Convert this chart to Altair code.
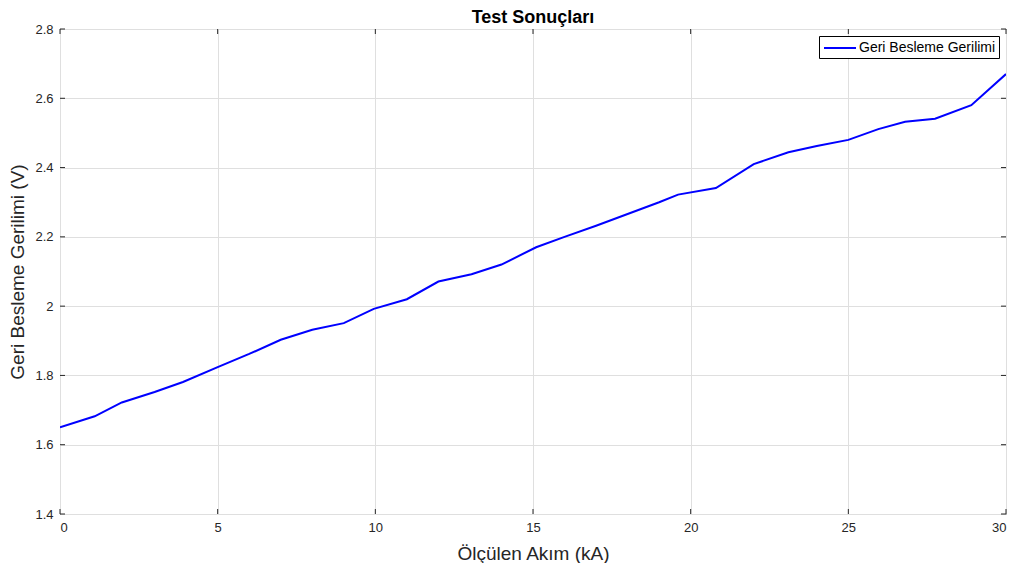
import altair as alt
import pandas as pd

current_ka = [0, 1.1, 1.96, 3.0, 3.9, 5.0, 6.0, 7.0, 8.0, 9.0, 9.95, 11.0, 12.0, 13.05, 14.0,
              15.1, 16.0, 17.0, 18.0, 19.0, 19.6, 20.8, 22.0, 23.1, 24.0, 25.0, 25.95, 26.8,
              27.75, 28.9, 30.0]
voltage_v = [1.65, 1.682, 1.722, 1.752, 1.781, 1.824, 1.862, 1.903, 1.932, 1.951, 1.992, 2.02,
             2.071, 2.092, 2.12, 2.17, 2.20, 2.232, 2.266, 2.30, 2.322, 2.341, 2.41, 2.444,
             2.462, 2.48, 2.511, 2.532, 2.541, 2.58, 2.67]
series_name = "Geri Besleme Gerilimi"
x_ticks = [0, 5, 10, 15, 20, 25, 30]
y_ticks = [1.4, 1.6, 1.8, 2.0, 2.2, 2.4, 2.6, 2.8]

W, H = 946, 485
FONT = "Liberation Sans"
TXT = "#262626"

df = pd.DataFrame({"x": current_ka, "y": voltage_v, "s": series_name})
dx = pd.DataFrame({"x": x_ticks})
dy = pd.DataFrame({"y": y_ticks})

xs = alt.Scale(domain=[0, 30], nice=False, zero=False)
ys = alt.Scale(domain=[1.4, 2.8], nice=False, zero=False)

line = alt.Chart(df).mark_line(strokeWidth=2, clip=True).encode(
    x=alt.X("x:Q", scale=xs, title="Ölçülen Akım (kA)",
            axis=alt.Axis(values=x_ticks, format="~g", tickSize=0, labelPadding=7,
                          titlePadding=10, domain=False, grid=True)),
    y=alt.Y("y:Q", scale=ys, title="Geri Besleme Gerilimi (V)",
            axis=alt.Axis(values=y_ticks, format="~g", tickSize=0, labelPadding=7,
                          titlePadding=7, domain=False, grid=True)),
    color=alt.Color("s:N", scale=alt.Scale(range=["#0000ff"]),
                    legend=alt.Legend(title=None, orient="top-right", symbolType="M-2,0H2",
                                      symbolStrokeWidth=2, symbolSize=256, symbolOffset=9,
                                      labelOffset=10,
                                      strokeColor="#000000", fillColor="#ffffff",
                                      padding=3, offset=7, labelFontSize=14,
                                      labelColor="#000000", labelFont=FONT)),
)

tick_len = 5
bx = alt.Chart(dx).mark_rule(color=TXT, strokeWidth=1).encode(
    x=alt.X("x:Q", scale=xs), y=alt.value(H), y2=alt.value(H - tick_len))
tx = alt.Chart(dx).mark_rule(color=TXT, strokeWidth=1).encode(
    x=alt.X("x:Q", scale=xs), y=alt.value(0), y2=alt.value(tick_len))
ly = alt.Chart(dy).mark_rule(color=TXT, strokeWidth=1).encode(
    y=alt.Y("y:Q", scale=ys), x=alt.value(0), x2=alt.value(tick_len))
ry = alt.Chart(dy).mark_rule(color=TXT, strokeWidth=1).encode(
    y=alt.Y("y:Q", scale=ys), x=alt.value(W), x2=alt.value(W - tick_len))

chart = alt.layer(line, bx, tx, ly, ry).properties(
    width=W, height=H,
    title=alt.TitleParams("Test Sonuçları", font=FONT, fontSize=18, fontWeight="bold",
                          color="#000000", anchor="middle", offset=-4, frame="group"),
    autosize=alt.AutoSizeParams(type="none"),
    padding={"left": 52, "top": 21, "right": 2, "bottom": 49},
).configure_view(stroke=TXT, strokeWidth=1).configure_axis(
    labelFont=FONT, labelFontSize=13, labelColor=TXT,
    titleFont=FONT, titleFontSize=19, titleColor=TXT, titleFontWeight="normal",
    gridColor="#dfdfdf", gridWidth=1,
)

chart.save("out.html", embed_options={"renderer": "svg", "actions": False})
